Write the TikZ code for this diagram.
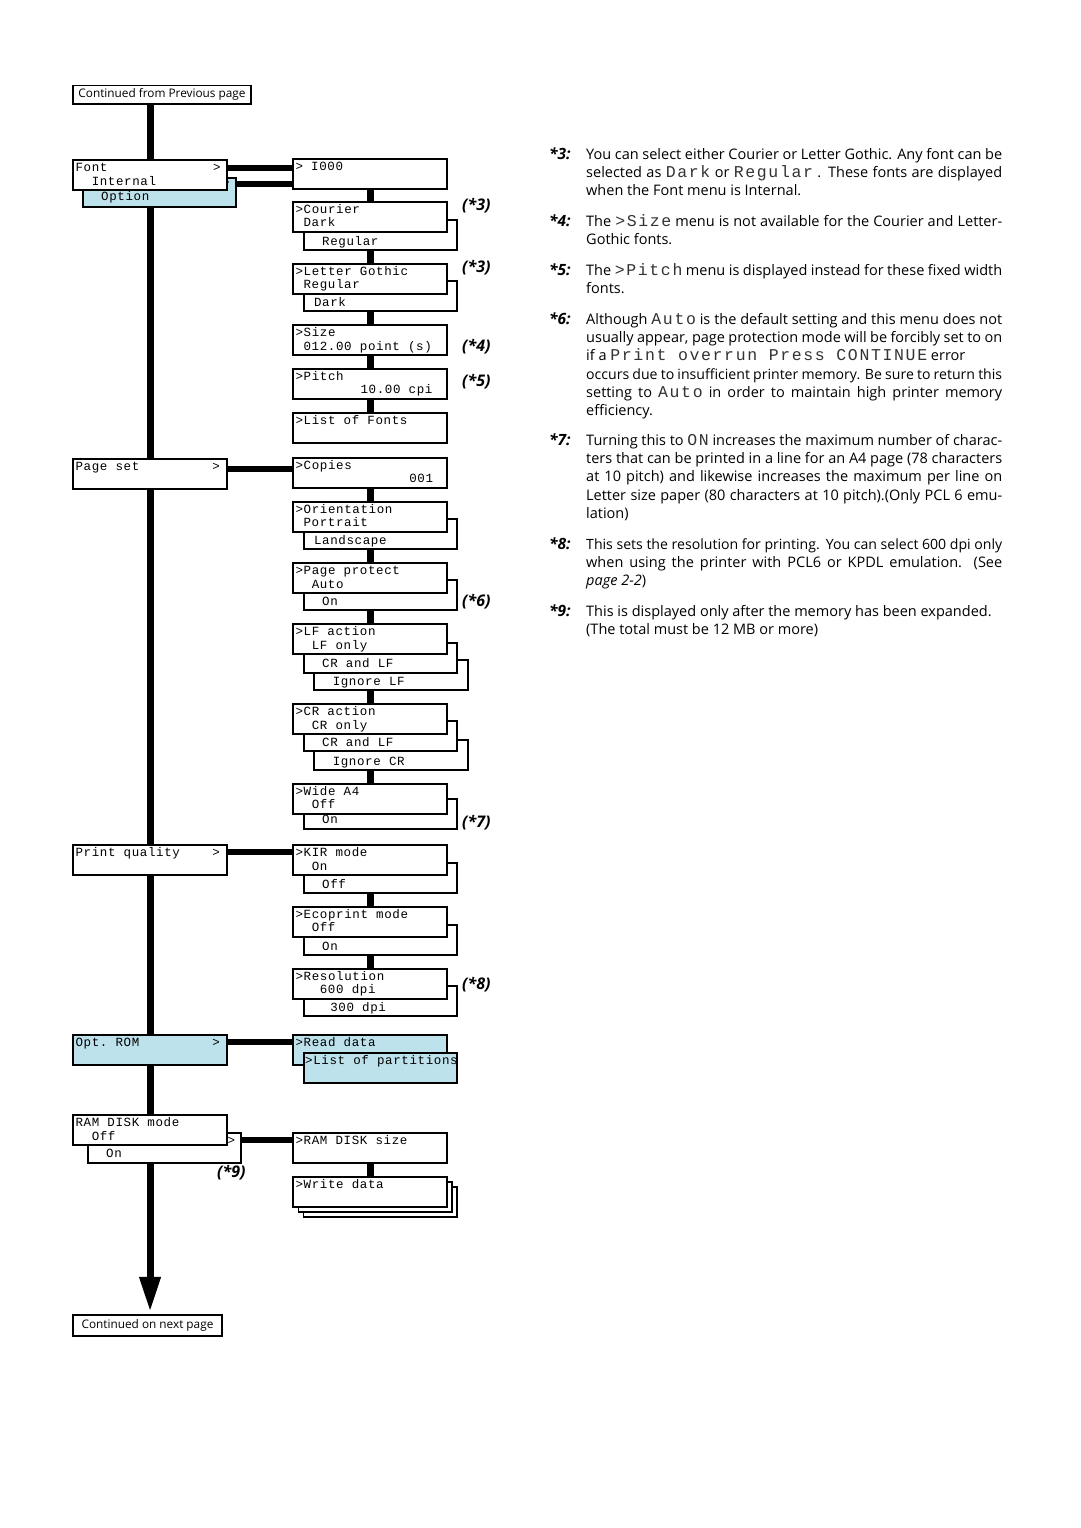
\documentclass[tikz,border=0pt]{standalone}
\usepackage{fontspec}
\setmainfont{Open Sans}
\newfontfamily\lcdfont[LetterSpace=5]{Liberation Mono}
\newfontfamily\lcdbig[LetterSpace=10]{Liberation Mono}
\usetikzlibrary{arrows.meta,calc}
\definecolor{lblue}{RGB}{190,226,236}
\newcommand\lcdi[1]{{\fontsize{16.5}{18.2}\lcdbig\color{black!80}#1}}
\newcommand\jl[1]{\hbox to 416pt{#1}}
\newcommand\jlt[1]{\hbox to 416pt{\fontsize{14.1}{18.2}\selectfont\spaceskip=3pt plus 3pt minus 1pt\relax #1}}
\tikzset{
  mbox/.style={draw=black, line width=2pt, fill=white, minimum width=153.5pt,
    minimum height=30pt, inner sep=0pt, outer sep=0pt, anchor=north west},
  lcd/.style={font={\fontsize{12.5}{13}\lcdfont}, inner sep=0pt, anchor=base west},
  vconn/.style={line width=7pt, black},
  hconn/.style={line width=6pt, black},
  contbox/.style={draw=black, line width=1.8pt, fill=white, inner sep=0pt, outer sep=0pt,
    font={\fontsize{11.8}{13}\selectfont}},
  star/.style={font={\bfseries\itshape\fontsize{16}{18}\selectfont}, inner sep=0pt, anchor=west},
  notelab/.style={font={\bfseries\itshape\fontsize{15.5}{18.2}\selectfont}, inner sep=0pt, anchor=base west},
  notetext/.style={font={\fontsize{14.5}{18.2}\selectfont}, inner sep=0pt, anchor=base west},
}
% name, x, y, extra style, line1, line2
\newcommand\menubox[6]{%
  \node[mbox,#4] (#1) at (#2,#3) {};
  \node[lcd] (#1-a) at ({#2+2},{#3+11.5}) {#5};
  \node[lcd] (#1-b) at ({#2+2},{#3+24.8}) {#6};
}
% name, x, y, extra style, text
\newcommand\backbox[5]{%
  \node[mbox,#4] (#1) at (#2,#3) {};
  \node[lcd] (#1-a) at ({#2+2},{#3+25}) {#5};
}
\begin{document}
\begin{tikzpicture}[x=1pt,y=-1pt]
\fill[white] (0,0) rectangle (1080,1528);
\useasboundingbox (0,0) rectangle (1080,1528);

% ---------- left column ----------
\node[contbox, minimum width=178.4pt, minimum height=18.3pt] (cont1) at (162,94.7) {Continued from Previous page};

\node[mbox, fill=lblue, minimum height=28.5pt] (option) at (82.7,178) {};
\node[lcd] (option-a) at (222,186) {>};
\node[lcd] (option-b) at (84.7,200) {~~Option};
\menubox{font}{73.3}{160.3}{}{Font~~~~~~~~~~~~~>}{~~Internal}

\menubox{pageset}{73.3}{459}{}{Page~set~~~~~~~~~>}{}
\menubox{printq}{73.3}{845.3}{}{Print~quality~~~~>}{}
\menubox{optrom}{73.3}{1035.3}{fill=lblue}{Opt.~ROM~~~~~~~~~>}{}

\node[mbox] (ramdiskon) at (87.7,1132.7) {};
\node[lcd] (ramdiskon-a) at (89.2,1144) {~~~~~~~~~~~~~~~~~>};
\node[lcd] (ramdiskon-b) at (89.7,1157) {~~On};
\menubox{ramdisk}{73.3}{1115.3}{}{RAM~DISK~mode}{~~Off}

\node[contbox, minimum width=148.4pt, minimum height=20.4pt] (cont2) at (147.5,1325.5) {Continued on next page};

% ---------- right column ----------
\menubox{i000}{293.3}{158.7}{}{>~I000}{}

\backbox{courierb}{303.7}{220}{}{~~Regular}
\menubox{courier}{293.3}{202}{}{>Courier}{~Dark}

\backbox{lgb}{303.7}{281}{}{~Dark}
\menubox{lg}{293.3}{263.7}{}{>Letter~Gothic}{~Regular}

\menubox{size}{293.3}{325.3}{}{>Size}{~012.00~point~(s)}
\menubox{pitch}{293.3}{369}{}{>Pitch}{~~~~~~~~10.00~cpi}
\menubox{listfonts}{293.3}{413}{}{>List~of~Fonts}{}

\menubox{copies}{293.3}{457.7}{}{>Copies}{~~~~~~~~~~~~~~001}

\backbox{orientb}{303.7}{519}{}{~Landscape}
\menubox{orient}{293.3}{502}{}{>Orientation}{~Portrait}

\backbox{ppb}{303.7}{580}{}{~~On}
\menubox{pp}{293.3}{563.3}{}{>Page~protect}{~~Auto}

\backbox{lfc}{314.3}{660.3}{}{~~Ignore~LF}
\backbox{lfb}{303.7}{642.7}{}{~~CR~and~LF}
\menubox{lf}{293.3}{624.3}{}{>LF~action}{~~LF~only}

\backbox{crc}{314.3}{740}{}{~~Ignore~CR}
\backbox{crb}{303.7}{721}{}{~~CR~and~LF}
\menubox{cr}{293.3}{704.3}{}{>CR~action}{~~CR~only}

\backbox{wideb}{303.7}{798.7}{}{~~On}
\menubox{wide}{293.3}{783.7}{}{>Wide~A4}{~~Off}

\backbox{kirb}{303.7}{863.3}{}{~~Off}
\menubox{kir}{293.3}{845.3}{}{>KIR~mode}{~~On}

\backbox{ecob}{303.7}{925}{}{~~On}
\menubox{eco}{293.3}{907}{}{>Ecoprint~mode}{~~Off}

\backbox{resb}{303.7}{986}{}{~~~300~dpi}
\menubox{res}{293.3}{968.7}{}{>Resolution}{~~~600~dpi}

\menubox{readdata}{293.3}{1035.3}{fill=lblue}{>Read~data}{}
\node[mbox, fill=lblue] (listpart) at (303.7,1053.3) {};
\node[lcd] (listpart-a) at (305,1064.6) {>List~of~partitions};

\menubox{ramsize}{293.3}{1133.3}{}{>RAM~DISK~size}{}

\node[mbox, line width=1.5pt] (wd2) at (303.3,1187) {};
\node[mbox, line width=1.5pt] (wd1) at (298.3,1182) {};
\menubox{wd}{293.3}{1177}{}{>Write~data}{}

% ---------- main vertical line ----------
\draw[vconn] (cont1.south -| font.south) -- (font.north);
\draw[vconn] (option.south -| font.south) -- (pageset.north);
\draw[vconn] (pageset.south) -- (printq.north);
\draw[vconn] (printq.south) -- (optrom.north);
\draw[vconn] (optrom.south) -- (ramdisk.north);
\draw[vconn, -{Triangle[length=35pt,width=20pt]}, shorten >=3.5pt]
  (ramdiskon.south -| ramdisk.south) -- (cont2.north -| ramdisk.south);

% ---------- horizontal connectors ----------
\coordinate (yf) at (0,168);
\coordinate (yo) at (0,183.5);
\coordinate (yp) at (0,468.7);
\coordinate (yq) at (0,852);
\coordinate (yr) at (0,1042);
\coordinate (yd) at (0,1140);
\draw[hconn] (font.east |- yf) -- (i000.west |- yf);
\draw[hconn] (option.east |- yo) -- (i000.west |- yo);
\draw[hconn] (pageset.east |- yp) -- (copies.west |- yp);
\draw[hconn] (printq.east |- yq) -- (kir.west |- yq);
\draw[hconn] (optrom.east |- yr) -- (readdata.west |- yr);
\draw[hconn] (ramdiskon.east |- yd) -- (ramsize.west |- yd);

% ---------- right column vertical connectors ----------
\draw[vconn] (i000.south) -- (courier.north);
\draw[vconn] (courierb.south -| courier.south) -- (lg.north);
\draw[vconn] (lgb.south -| lg.south) -- (size.north);
\draw[vconn] (size.south) -- (pitch.north);
\draw[vconn] (pitch.south) -- (listfonts.north);
\draw[vconn] (copies.south) -- (orient.north);
\draw[vconn] (orientb.south -| orient.south) -- (pp.north);
\draw[vconn] (ppb.south -| pp.south) -- (lf.north);
\draw[vconn] (lfc.south -| lf.south) -- (cr.north);
\draw[vconn] (crc.south -| cr.south) -- (wide.north);
\draw[vconn] (kirb.south -| kir.south) -- (eco.north);
\draw[vconn] (ecob.south -| eco.south) -- (res.north);
\draw[vconn] (ramsize.south) -- (wd.north);

% ---------- footnote markers ----------
\node[star] (s3a) at (462,206) {(*3)};
\node[star] (s3b) at (462,268) {(*3)};
\node[star] (s4) at (462,347) {(*4)};
\node[star] (s5) at (462,382) {(*5)};
\node[star] (s6) at (462,602) {(*6)};
\node[star] (s7) at (462,823) {(*7)};
\node[star] (s8) at (462,985) {(*8)};
\node[star] (s9) at (217,1173) {(*9)};

% ---------- notes ----------
\node[notelab] (l3) at (549,159.5) {*3:};
\node[notetext] (t3) at (586,159.5) {\begin{tabular}[t]{@{}l@{}}
\jl{You can select either Courier or Letter Gothic. Any font can be}\\
\jl{selected as \lcdi{Dark} or \lcdi{Regular} . These fonts are displayed}\\
when the Font menu is Internal.\end{tabular}};

\node[notelab] (l4) at (549,226.5) {*4:};
\node[notetext] (t4) at (586,226.5) {\begin{tabular}[t]{@{}l@{}}
\jl{The \lcdi{>Size} menu is not available for the Courier and Letter-}\\
Gothic fonts.\end{tabular}};

\node[notelab] (l5) at (549,275.5) {*5:};
\node[notetext] (t5) at (586,275.5) {\begin{tabular}[t]{@{}l@{}}
\jl{The \lcdi{>Pitch} menu is displayed instead for these fixed width}\\
fonts.\end{tabular}};

\node[notelab] (l6) at (549,324.5) {*6:};
\node[notetext] (t6) at (586,324.5) {\begin{tabular}[t]{@{}l@{}}
\jl{Although \lcdi{Auto} is the default setting and this menu does not}\\
\jl{usually appear, page protection mode will be forcibly set to on}\\
if a \lcdi{Print overrun Press CONTINUE} error\\
\jlt{occurs due to insufficient printer memory. Be sure to return this}\\
\jl{setting to \lcdi{Auto} in order to maintain high printer memory}\\
efficiency.\end{tabular}};

\node[notelab] (l7) at (549,445.5) {*7:};
\node[notetext] (t7) at (586,445.5) {\begin{tabular}[t]{@{}l@{}}
\jl{Turning this to \lcdi{ON} increases the maximum number of charac-}\\
\jl{ters that can be printed in a line for an A4 page (78 characters}\\
\jl{at 10 pitch) and likewise increases the maximum per line on}\\
\jl{Letter size paper (80 characters at 10 pitch).(Only PCL 6 emu-}\\
lation)\end{tabular}};

\node[notelab] (l8) at (549,549.5) {*8:};
\node[notetext] (t8) at (586,549.5) {\begin{tabular}[t]{@{}l@{}}
\jlt{This sets the resolution for printing. You can select 600 dpi only}\\
\jl{when using the printer with PCL6 or KPDL emulation. (See}\\
\textit{page 2-2})\end{tabular}};

\node[notelab] (l9) at (549,616.5) {*9:};
\node[notetext] (t9) at (586,616.5) {\begin{tabular}[t]{@{}l@{}}
This is displayed only after the memory has been expanded.\\
(The total must be 12 MB or more)\end{tabular}};
\end{tikzpicture}
\end{document}
